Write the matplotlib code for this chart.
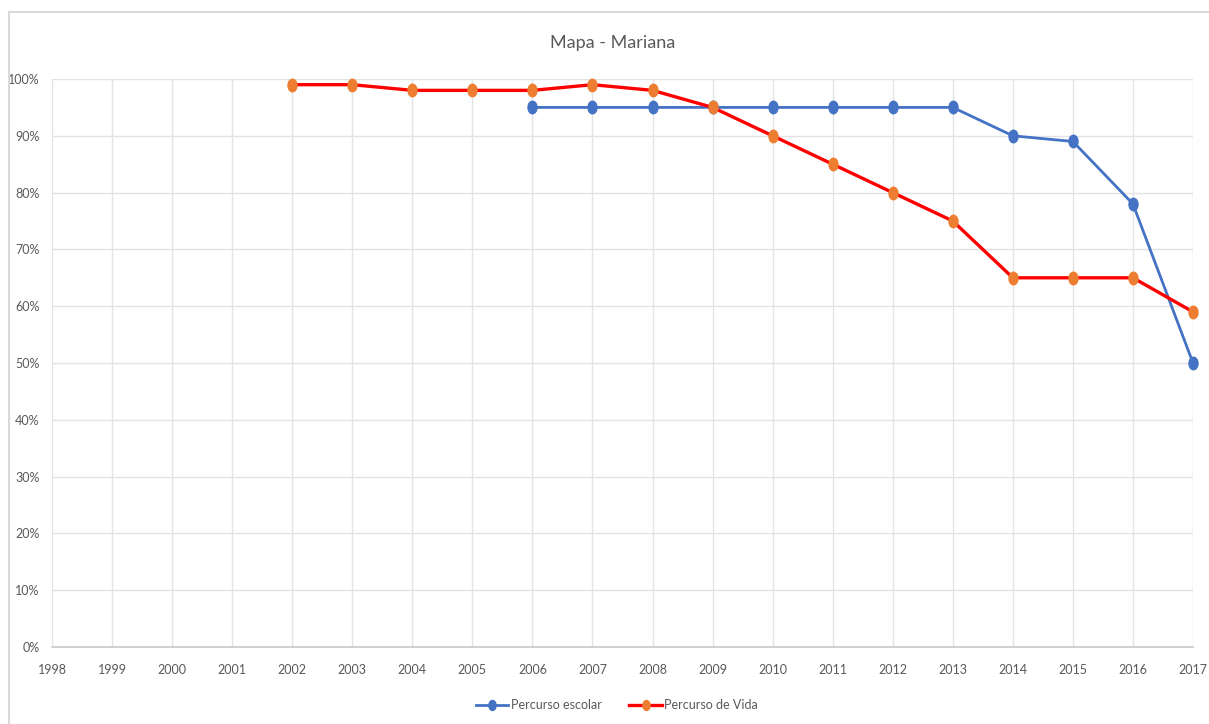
import matplotlib
matplotlib.use("Agg")
import matplotlib.pyplot as plt
from matplotlib.path import Path
from matplotlib.transforms import Affine2D
from matplotlib.lines import Line2D
from matplotlib.ticker import PercentFormatter

plt.rcParams['font.family'] = ['Lato', 'DejaVu Sans']

years = list(range(1998, 2018))

escolar_years = list(range(2006, 2018))
escolar_vals = [95, 95, 95, 95, 95, 95, 95, 95, 90, 89, 78, 50]

vida_years = list(range(2002, 2018))
vida_vals = [99, 99, 98, 98, 98, 99, 98, 95, 90, 85, 80, 75, 65, 65, 65, 59]

title = "Mapa - Mariana"
label_escolar = "Percurso escolar"
label_vida = "Percurso de Vida"

W, H = 1209, 724
fig = plt.figure(figsize=(W / 100, H / 100), dpi=100)

# chart frame: only the left and top edges fall inside the image
frame_kw = dict(transform=fig.transFigure, color='#d9d9d9', linewidth=1.5)
fig.add_artist(Line2D([8.5 / W, 8.5 / W], [0, 1 - 11.5 / H], **frame_kw))
fig.add_artist(Line2D([8.5 / W, 1], [1 - 11.5 / H, 1 - 11.5 / H], **frame_kw))

ax = fig.add_axes([52 / W, (H - 647) / H, (1193 - 52) / W, (647 - 79) / H])

# slightly tall oval marker
oval = Path.unit_circle().transformed(Affine2D().scale(0.72, 1.0))

ax.plot(escolar_years, escolar_vals, color='#4472c4', linewidth=2.0,
        marker=oval, markersize=9, markerfacecolor='#4472c4',
        markeredgecolor='#4472c4', label=label_escolar, zorder=3,
        clip_on=False)
ax.plot(vida_years, vida_vals, color='#ff0000', linewidth=2.4,
        marker=oval, markersize=9, markerfacecolor='#ed7d31',
        markeredgecolor='#ed7d31', label=label_vida, zorder=4,
        clip_on=False)

ax.set_xlim(1998, 2017)
ax.set_ylim(0, 100)
ax.set_xticks(years)
ax.set_yticks(range(0, 101, 10))
ax.yaxis.set_major_formatter(PercentFormatter(decimals=0))
ax.grid(True, color='#e3e3e3', linewidth=1.0)
ax.set_axisbelow(True)
for side in ['top', 'right', 'left']:
    ax.spines[side].set_visible(False)
ax.spines['bottom'].set_color('#c8c8c8')
ax.spines['bottom'].set_linewidth(1.2)
ax.tick_params(axis='both', length=0, labelsize=9, labelcolor='#595959')
ax.tick_params(axis='x', pad=12)
ax.tick_params(axis='y', pad=9)

fig.text(613 / W, 1 - 43 / H, title, ha='center', va='center',
         fontsize=13, color='#595959')

fig.legend(loc='center', bbox_to_anchor=(617 / W, 1 - 705 / H), ncol=2,
           frameon=False, fontsize=9, labelcolor='#595959',
           handlelength=2.6, handletextpad=0.2, columnspacing=2.2,
           markerscale=0.8)

fig.savefig('out.png', dpi=100)
